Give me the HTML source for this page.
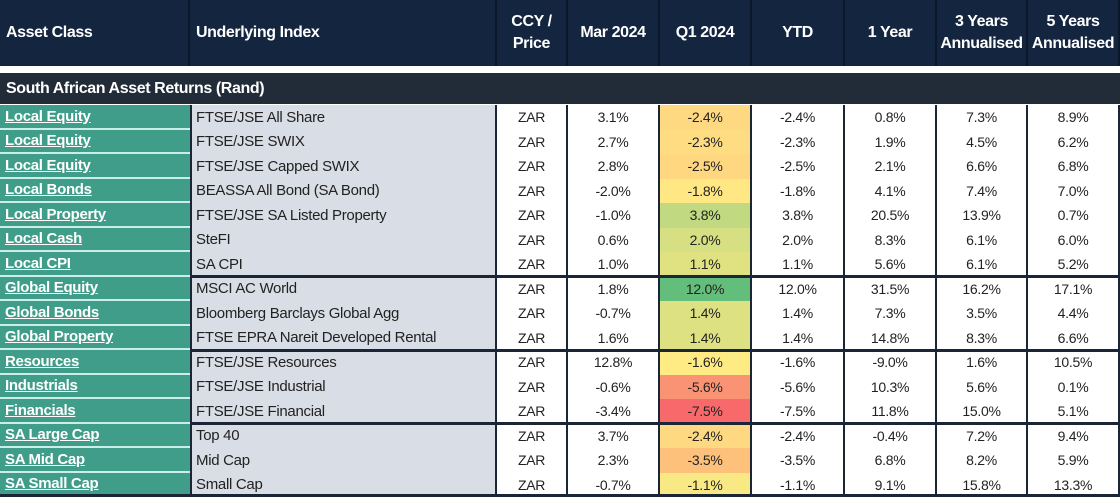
<!DOCTYPE html>
<html><head><meta charset="utf-8">
<style>
body{margin:0;width:1120px;height:497px;overflow:hidden;background:#fff;font-family:"Liberation Sans",sans-serif;position:relative}
.a{position:absolute;box-sizing:border-box;white-space:nowrap}
.h{background:#14263f;color:#fff;font-weight:bold;font-size:16px;display:flex;align-items:center;justify-content:center;text-align:center;line-height:22px;letter-spacing:-0.4px}
.c{font-size:14px;color:#222;display:flex;align-items:center;justify-content:center;letter-spacing:-0.3px}
</style></head><body>
<div id="root"></div>
<script>
const assetClasses=["Local Equity","Local Equity","Local Equity","Local Bonds","Local Property","Local Cash","Local CPI","Global Equity","Global Bonds","Global Property","Resources","Industrials","Financials","SA Large Cap","SA Mid Cap","SA Small Cap"];
const indices=["FTSE/JSE All Share","FTSE/JSE SWIX","FTSE/JSE Capped SWIX","BEASSA All Bond (SA Bond)","FTSE/JSE SA Listed Property","SteFI","SA CPI","MSCI AC World","Bloomberg Barclays Global Agg","FTSE EPRA Nareit Developed Rental","FTSE/JSE Resources","FTSE/JSE Industrial","FTSE/JSE Financial","Top 40","Mid Cap","Small Cap"];
const mar=[3.1,2.7,2.8,-2.0,-1.0,0.6,1.0,1.8,-0.7,1.6,12.8,-0.6,-3.4,3.7,2.3,-0.7];
const q1=[-2.4,-2.3,-2.5,-1.8,3.8,2.0,1.1,12.0,1.4,1.4,-1.6,-5.6,-7.5,-2.4,-3.5,-1.1];
const ytd=[-2.4,-2.3,-2.5,-1.8,3.8,2.0,1.1,12.0,1.4,1.4,-1.6,-5.6,-7.5,-2.4,-3.5,-1.1];
const y1=[0.8,1.9,2.1,4.1,20.5,8.3,5.6,31.5,7.3,14.8,-9.0,10.3,11.8,-0.4,6.8,9.1];
const y3=[7.3,4.5,6.6,7.4,13.9,6.1,6.1,16.2,3.5,8.3,1.6,5.6,15.0,7.2,8.2,15.8];
const y5=[8.9,6.2,6.8,7.0,0.7,6.0,5.2,17.1,4.4,6.6,10.5,0.1,5.1,9.4,5.9,13.3];
const groupEnds=[6,9,12];

const root=document.getElementById('root');
function mk(cls,x,y,w,h,txt,st,name){const d=document.createElement('div');d.className='a '+cls;
d.style.left=x+'px';d.style.top=y+'px';d.style.width=w+'px';d.style.height=h+'px';
if(st)d.style.cssText+=st;d.innerHTML=txt||'';


root.appendChild(d);return d;}
const cols=[0,190,497,568,660,752,845,937,1028,1120];
const heads=["Asset Class","Underlying Index","CCY /<br>Price","Mar 2024","Q1 2024","YTD","1 Year","3 Years<br>Annualised","5 Years<br>Annualised"];
for(let i=0;i<9;i++){
  const st=(i<2?'justify-content:flex-start;padding-left:6px;':'')+'border-right:2px solid #0b1829;';
  mk('h',cols[i],0,cols[i+1]-cols[i],66,heads[i],st,'header-'+i);
}
mk('h',0,73,1120,31,'South African Asset Returns (Rand)','background:#222c39;justify-content:flex-start;padding-left:6px;','section-header');
function lerp(a,b,t){return a.map((v,i)=>Math.round(v+(b[i]-v)*t));}
function heat(v){const r=[248,105,107],y=[255,235,132],g=[99,190,123];const mid=-1.6;
 let c=v<mid?lerp(r,y,(v+7.5)/(mid+7.5)):lerp(y,g,Math.min(1,(v-mid)/(12-mid)));return 'rgb('+c.join(',')+')';}
const top0=105,rh=24.5;
const fmt=v=>v.toFixed(1)+'%';
for(let r=0;r<16;r++){
  const y=top0+r*rh;
  mk('c',0,y,190,rh,assetClasses[r],'background:#3f9d8a;color:#fff;font-weight:bold;justify-content:flex-start;padding-left:5px;text-decoration:underline;border-bottom:2px solid #c9efe8;font-size:15px;','asset-class-'+r);
  mk('c',190,y,307,rh,indices[r],'background:#d9dde5;justify-content:flex-start;padding-left:4px;border-left:2px solid #1a2636;border-right:2px solid #1a2636;font-size:15px;','index-'+r);
  const vals=['ZAR',fmt(mar[r]),fmt(q1[r]),fmt(ytd[r]),fmt(y1[r]),fmt(y3[r]),fmt(y5[r])];
  for(let c=0;c<7;c++){
    let st='border-right:2px solid #1a2636;';
    if(c==2)st+='background:'+heat(q1[r])+';';
    mk('c',cols[c+2],y,cols[c+3]-cols[c+2],rh,vals[c],st,'cell-'+r+'-'+c);
  }
}
groupEnds.forEach((g,i)=>{mk('',190,top0+(g+1)*rh-1.5,930,3,'','background:#1a2636;','group-divider-'+i);});
mk('',0,494,1120,3,'','background:#1a2636;','bottom-border');
</script>
</body></html>
